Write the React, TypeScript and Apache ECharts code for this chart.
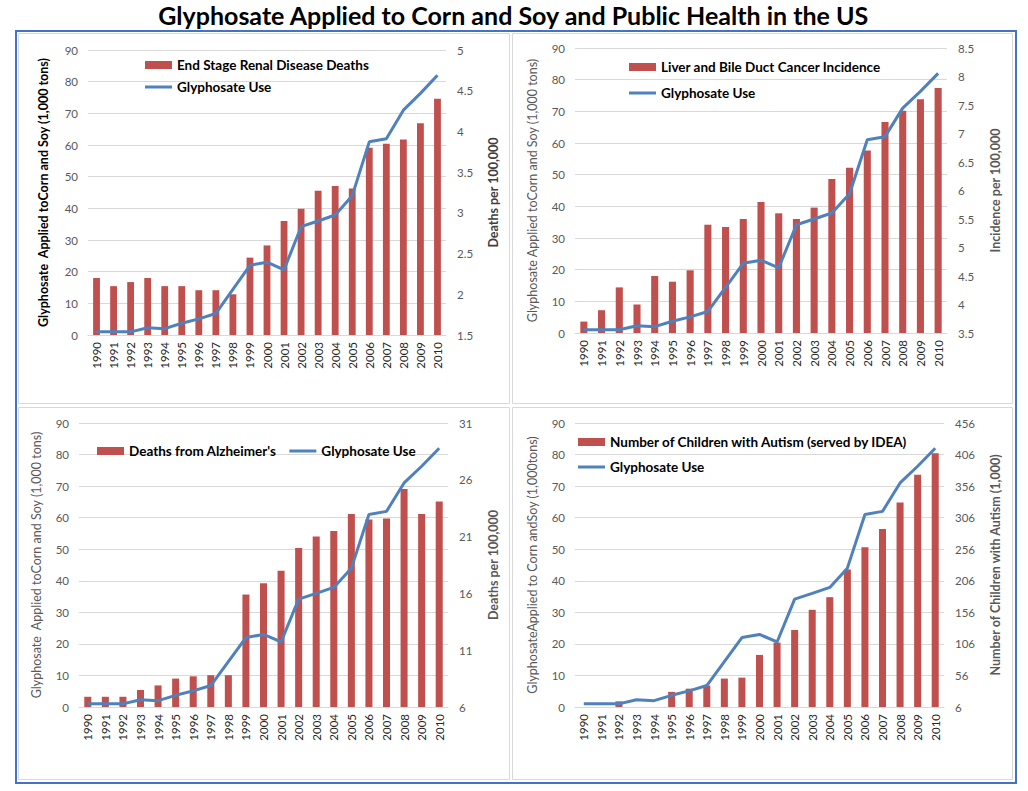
import { useEffect, useRef } from "react";
import * as echarts from "echarts";

const years = ["1990","1991","1992","1993","1994","1995","1996","1997","1998","1999","2000","2001","2002","2003","2004","2005","2006","2007","2008","2009","2010"];

// Glyphosate applied to corn and soy (1,000 tons) – same line in every panel
const glyphosateUse = [1.0, 1.0, 1.0, 2.3, 2.0, 3.7, 5.1, 6.8, 14.4, 22.0, 23.0, 20.6, 34.2, 36.0, 37.9, 44.0, 61.0, 62.0, 71.0, 76.3, 82.0];

// Panel series (right axis units)
const renalDeaths = [2.2, 2.1, 2.15, 2.2, 2.1, 2.1, 2.05, 2.05, 2.0, 2.45, 2.6, 2.9, 3.05, 3.27, 3.33, 3.3, 3.8, 3.85, 3.9, 4.1, 4.4];
const liverCancer = [3.7, 3.9, 4.3, 4.0, 4.5, 4.4, 4.6, 5.4, 5.36, 5.5, 5.8, 5.6, 5.5, 5.7, 6.2, 6.4, 6.7, 7.2, 7.4, 7.6, 7.8];
const alzheimerDeaths = [6.9, 6.9, 6.9, 7.5, 7.9, 8.5, 8.7, 8.8, 8.8, 15.9, 16.9, 18.0, 20.0, 21.0, 21.5, 23.0, 22.5, 22.6, 25.2, 23.0, 24.1];
const autismChildren = [null, null, 15, null, null, 30, 35, 40, 51, 52.5, 88.5, 108, 128, 160, 180, 224, 259, 288, 330, 374, 408];

// Tick labels
const leftTicks = [0, 10, 20, 30, 40, 50, 60, 70, 80, 90];
const renalTicks = [1.5, 2, 2.5, 3, 3.5, 4, 4.5, 5];
const liverTicks = [3.5, 4, 4.5, 5, 5.5, 6, 6.5, 7, 7.5, 8, 8.5];
const alzTicks = [6, 11, 16, 21, 26, 31];
const autismTicks = [6, 56, 106, 156, 206, 256, 306, 356, 406, 456];

const FONT = "Lato, 'Liberation Sans', sans-serif";
const BAR = "#C0504D";
const LINE = "#4F81BD";
const GRID = "#D9D9D9";
const LABEL = "#595959";

type Panel = {
  grid: { left: number; top: number; width: number; height: number };
  leftName: string;
  leftNameStyle: { color: string; bold: boolean };
  leftGap: number;
  rightName: string;
  rightNameColor: string;
  rightGap: number;
  rightTicks: number[];
  barName: string;
  bars: (number | null)[];
  legend: { left: number; top: number; orient: "vertical" | "horizontal"; itemGap: number };
};

const panels: Panel[] = [
  {
    grid: { left: 88, top: 50, width: 358, height: 285 },
    leftName: "Glyphosate  Applied toCorn and Soy (1,000 tons)",
    leftNameStyle: { color: "#000000", bold: true },
    leftGap: 38,
    rightName: "Deaths per 100,000",
    rightNameColor: "#404040",
    rightGap: 41,
    rightTicks: renalTicks,
    barName: "End Stage Renal Disease Deaths",
    bars: renalDeaths,
    legend: { left: 145, top: 58, orient: "vertical", itemGap: 8 },
  },
  {
    grid: { left: 575, top: 48, width: 372, height: 285 },
    leftName: "Glyphosate Applied toCorn and Soy (1,000 tons)",
    leftNameStyle: { color: LABEL, bold: false },
    leftGap: 36,
    rightName: "Incidence per 100,000",
    rightNameColor: LABEL,
    rightGap: 42,
    rightTicks: liverTicks,
    barName: "Liver and Bile Duct Cancer Incidence",
    bars: liverCancer,
    legend: { left: 629, top: 60, orient: "vertical", itemGap: 12 },
  },
  {
    grid: { left: 79, top: 423, width: 369, height: 284 },
    leftName: "Glyphosate  Applied toCorn and Soy (1,000 tons)",
    leftNameStyle: { color: LABEL, bold: false },
    leftGap: 36,
    rightName: "Deaths per 100,000",
    rightNameColor: LABEL,
    rightGap: 39,
    rightTicks: alzTicks,
    barName: "Deaths from Alzheimer's",
    bars: alzheimerDeaths,
    legend: { left: 97, top: 444, orient: "horizontal", itemGap: 13 },
  },
  {
    grid: { left: 575, top: 423, width: 369, height: 284 },
    leftName: "GlyphosateApplied to Corn andSoy (1,000tons)",
    leftNameStyle: { color: LABEL, bold: false },
    leftGap: 36,
    rightName: "Number of Children with Autism (1,000)",
    rightNameColor: LABEL,
    rightGap: 45,
    rightTicks: autismTicks,
    barName: "Number of Children with Autism (served by IDEA)",
    bars: autismChildren,
    legend: { left: 578, top: 435, orient: "vertical", itemGap: 11 },
  },
];

function buildOption() {
  const grid: any[] = [];
  const xAxis: any[] = [];
  const yAxis: any[] = [];
  const series: any[] = [];
  const legend: any[] = [];

  panels.forEach((p, i) => {
    grid.push({ ...p.grid, containLabel: false });
    xAxis.push({
      type: "category",
      gridIndex: i,
      data: years,
      axisTick: { show: false },
      axisLine: { lineStyle: { color: GRID, width: 1 } },
      axisLabel: { rotate: 90, fontSize: 11.5, color: "#262626", margin: 7, interval: 0, fontFamily: FONT },
    });
    // left axis (glyphosate)
    yAxis.push({
      type: "value",
      gridIndex: i,
      position: "left",
      min: leftTicks[0],
      max: leftTicks[leftTicks.length - 1],
      interval: 10,
      axisLine: { show: false },
      axisTick: { show: false },
      splitLine: { lineStyle: { color: GRID, width: 1 } },
      axisLabel: { fontSize: 11.5, color: LABEL, margin: 10, fontFamily: FONT },
      name: p.leftName,
      nameLocation: "middle",
      nameRotate: 90,
      nameGap: p.leftGap,
      nameTextStyle: {
        fontSize: 12.5,
        color: p.leftNameStyle.color,
        fontWeight: p.leftNameStyle.bold ? "bold" : "normal",
        fontFamily: FONT,
      },
    });
    // right axis (health metric)
    yAxis.push({
      type: "value",
      gridIndex: i,
      position: "right",
      min: p.rightTicks[0],
      max: p.rightTicks[p.rightTicks.length - 1],
      axisLine: { show: false },
      axisTick: { show: false, customValues: p.rightTicks },
      splitLine: { show: false },
      axisLabel: { fontSize: 11.5, color: LABEL, margin: 11, fontFamily: FONT, customValues: p.rightTicks },
      name: p.rightName,
      nameLocation: "middle",
      nameRotate: 90,
      nameGap: p.rightGap,
      nameTextStyle: { fontSize: 12.5, color: p.rightNameColor, fontWeight: "bold", fontFamily: FONT },
    });
    series.push({
      type: "bar",
      name: p.barName,
      xAxisIndex: i,
      yAxisIndex: i * 2 + 1,
      data: p.bars,
      barWidth: "40%",
      itemStyle: { color: BAR },
      z: 2,
    });
    series.push({
      type: "line",
      name: "Glyphosate Use",
      xAxisIndex: i,
      yAxisIndex: i * 2,
      data: glyphosateUse,
      symbol: "none",
      showSymbol: false,
      lineStyle: { color: LINE, width: 3 },
      itemStyle: { color: LINE },
      z: 3,
    });
    legend.push({
      left: p.legend.left,
      top: p.legend.top,
      orient: p.legend.orient,
      itemGap: p.legend.itemGap,
      padding: 0,
      itemWidth: 27,
      itemHeight: 8,
      textStyle: { fontSize: 13.5, fontWeight: "bold", color: "#000000", fontFamily: FONT },
      data: [
        { name: p.barName, icon: "rect", itemStyle: { color: BAR } },
        { name: "Glyphosate Use", icon: "path://M0,0H27V3H0Z", itemStyle: { color: LINE } },
      ],
    });
  });

  return {
    animation: false,
    backgroundColor: "#ffffff",
    textStyle: { fontFamily: FONT },
    grid,
    xAxis,
    yAxis,
    series,
    legend,
    graphic: [
      {
        type: "text",
        left: "center",
        top: 2,
        style: {
          text: "Glyphosate Applied to Corn and Soy and Public Health in the US",
          fontSize: 25,
          fontWeight: "bold",
          fill: "#000000",
          fontFamily: FONT,
        },
      },
      { type: "rect", shape: { x: 16, y: 31, width: 1000, height: 752 }, style: { fill: "none", stroke: "#4472C4", lineWidth: 2 }, z: -1 },
      { type: "rect", shape: { x: 18.5, y: 33.5, width: 491, height: 370 }, style: { fill: "none", stroke: GRID, lineWidth: 1 }, z: -1 },
      { type: "rect", shape: { x: 512.5, y: 33.5, width: 500, height: 370 }, style: { fill: "none", stroke: GRID, lineWidth: 1 }, z: -1 },
      { type: "rect", shape: { x: 18.5, y: 407.5, width: 491, height: 372 }, style: { fill: "none", stroke: GRID, lineWidth: 1 }, z: -1 },
      { type: "rect", shape: { x: 512.5, y: 407.5, width: 500, height: 372 }, style: { fill: "none", stroke: GRID, lineWidth: 1 }, z: -1 },
    ],
  };
}

export default function App() {
  const ref = useRef<HTMLDivElement>(null);
  useEffect(() => {
    if (!ref.current) return;
    const chart = echarts.init(ref.current, null, { renderer: "svg" });
    chart.setOption(buildOption() as any);
    return () => chart.dispose();
  }, []);
  return (
    <div
      ref={ref}
      style={{ position: "fixed", left: 0, top: 0, width: 1028, height: 791, background: "#ffffff" }}
    />
  );
}
